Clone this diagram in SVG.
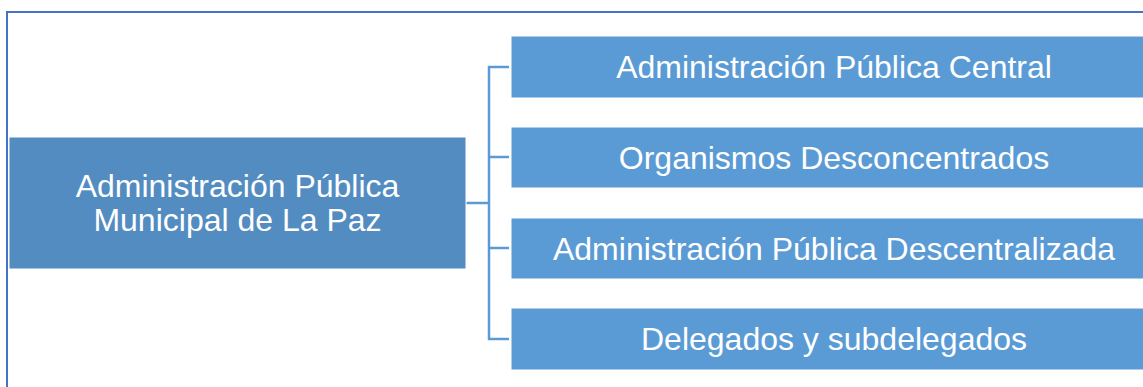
<svg xmlns="http://www.w3.org/2000/svg" width="1143" height="387" viewBox="0 0 1143 387">
<style>
.frame{fill:none;stroke:#4472C4;stroke-width:2}
.main{fill:#538CC1;stroke:#FFFFFF;stroke-width:1}
.child{fill:#5B9BD5;stroke:#FFFFFF;stroke-width:1}
.lbl{font-family:"Liberation Sans",Arial,sans-serif;font-size:32px;fill:#FFFFFF;text-anchor:middle}
.conn{fill:none;stroke:#5B9BD5;stroke-width:2.5}
</style>
<rect x="0" y="0" width="1143" height="387" fill="#FFFFFF"/>
<rect class="frame" x="7" y="12" width="1150" height="390"/>
<g id="connectors">
<path class="conn" d="M466 203 H489"/>
<path class="conn" d="M509 67 H489 V339 H509"/>
<path class="conn" d="M489 157 H509"/>
<path class="conn" d="M489 248 H509"/>
</g>
<g id="node-root">
<rect class="main" x="9" y="137" width="457" height="132"/>
<text class="lbl" x="237.5" y="197">Administración Pública</text>
<text class="lbl" x="237.5" y="231">Municipal de La Paz</text>
</g>
<g id="node-central">
<rect class="child" x="511" y="36" width="646" height="62"/>
<text class="lbl" x="834" y="78">Administración Pública Central</text>
</g>
<g id="node-desconcentrados">
<rect class="child" x="511" y="127" width="646" height="61"/>
<text class="lbl" x="834" y="169">Organismos Desconcentrados</text>
</g>
<g id="node-descentralizada">
<rect class="child" x="511" y="218" width="646" height="61"/>
<text class="lbl" x="834" y="260">Administración Pública Descentralizada</text>
</g>
<g id="node-delegados">
<rect class="child" x="511" y="308" width="646" height="62"/>
<text class="lbl" x="834" y="350">Delegados y subdelegados</text>
</g>
</svg>
